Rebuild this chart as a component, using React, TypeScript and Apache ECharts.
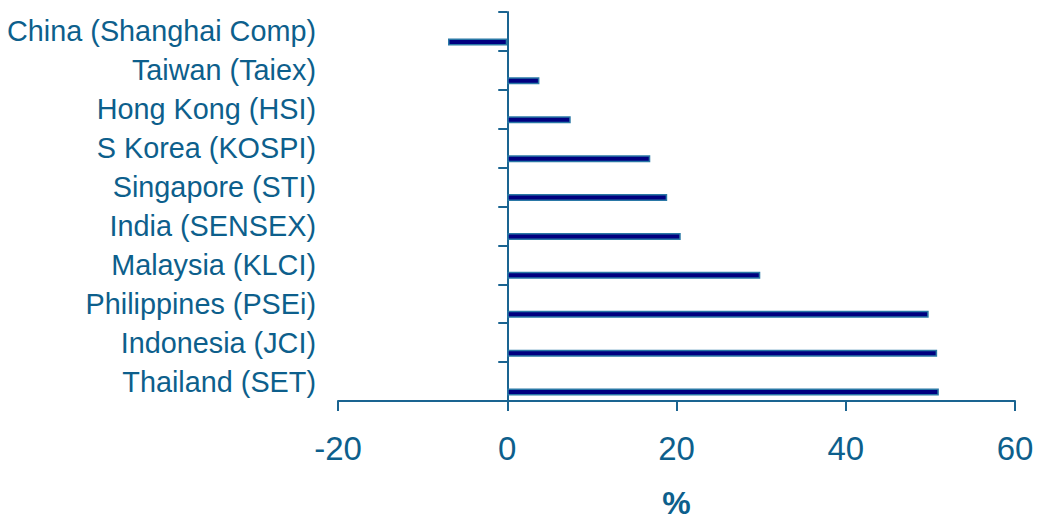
import React, { useEffect, useRef } from "react";
import * as echarts from "echarts";

const categories = [
  "Thailand (SET)",
  "Indonesia (JCI)",
  "Philippines (PSEi)",
  "Malaysia (KLCI)",
  "India (SENSEX)",
  "Singapore (STI)",
  "S Korea (KOSPI)",
  "Hong Kong (HSI)",
  "Taiwan (Taiex)",
  "China (Shanghai Comp)",
];
const values = [51.0, 50.8, 49.8, 29.9, 20.5, 18.9, 16.9, 7.5, 3.8, -7.0];
const xMin = -20;
const xMax = 60;
const xInterval = 20;

const TEXT = "#0d5f8c";
const LINE = "#1a6491";
const FONT = "Liberation Sans, Arial, sans-serif";

export default function App() {
  const ref = useRef<HTMLDivElement>(null);
  useEffect(() => {
    const chart = echarts.init(ref.current!, null, { renderer: "svg" });
    chart.setOption({
      animation: false,
      grid: { left: 338, width: 677, top: 12, height: 390, containLabel: false },
      xAxis: {
        type: "value",
        min: xMin,
        max: xMax,
        interval: xInterval,
        splitLine: { show: false },
        axisLine: { show: true, lineStyle: { color: LINE, width: 2 } },
        axisTick: { show: true, length: 10, lineStyle: { color: LINE, width: 2 } },
        axisLabel: { color: TEXT, fontSize: 33, fontFamily: FONT, margin: 31 },
        name: "%",
        nameLocation: "middle",
        nameGap: 86,
        nameTextStyle: { color: TEXT, fontSize: 32, fontWeight: "bold", fontFamily: FONT },
      },
      yAxis: [
        {
          type: "category",
          data: categories,
          position: "left",
          axisLine: { show: false, onZero: false },
          axisTick: { show: false },
          axisLabel: { color: TEXT, fontSize: 28.8, fontFamily: FONT, margin: 22 },
        },
        {
          type: "category",
          data: categories,
          position: "left",
          axisLine: { show: true, onZero: true, lineStyle: { color: LINE, width: 2 } },
          axisTick: { show: true, length: 9, lineStyle: { color: LINE, width: 2 } },
          axisLabel: { show: false },
        },
      ],
      series: [
        {
          type: "bar",
          yAxisIndex: 0,
          data: values.map(() => null),
          barWidth: 7,
          barGap: "200%",
          itemStyle: { color: "transparent" },
        },
        {
          type: "bar",
          yAxisIndex: 0,
          data: values,
          barWidth: 7,
          barGap: "200%",
          itemStyle: { color: "#000080", borderColor: "#2a78a6", borderWidth: 1.5 },
        },
      ],
    });
    return () => chart.dispose();
  }, []);
  return <div ref={ref} style={{ width: 1045, height: 524, position: "absolute", left: 0, top: 0 }} />;
}
